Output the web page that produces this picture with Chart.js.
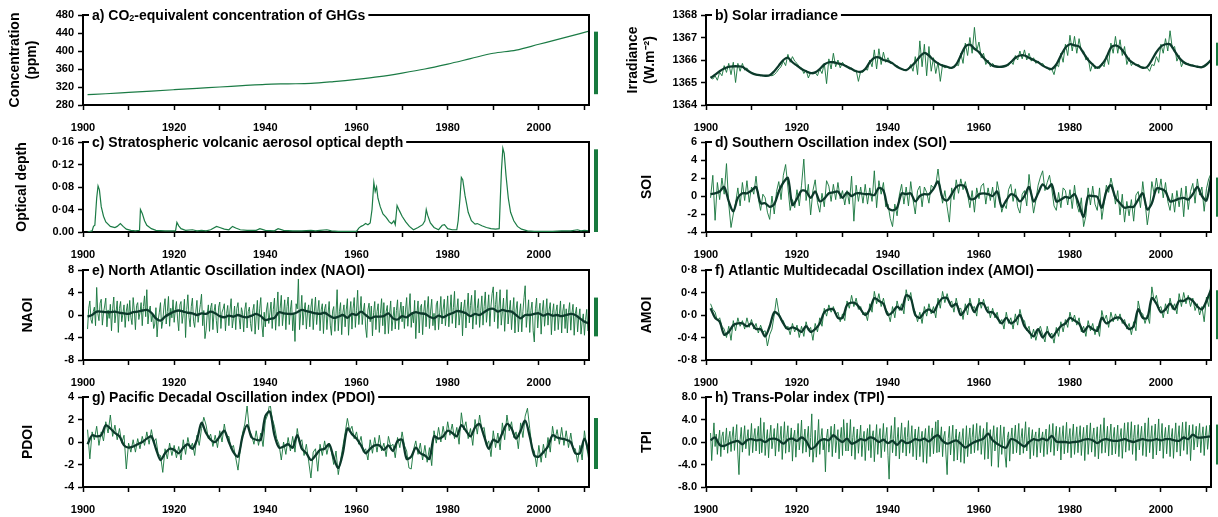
<!DOCTYPE html>
<html>
<head>
<meta charset="utf-8">
<script src="https://cdn.jsdelivr.net/npm/chart.js@4.4.0/dist/chart.umd.min.js"></script>
<style>
  body { margin: 0; background: #fff; }
  #wrap { position: relative; width: 1218px; height: 517px; overflow: hidden; }
  canvas { position: absolute; }
</style>
</head>
<body>
<div id="wrap">
  <canvas id="cA" width="600" height="136" style="left:0;top:0"></canvas>
  <canvas id="cC" width="600" height="136" style="left:0;top:127px"></canvas>
  <canvas id="cE" width="600" height="136" style="left:0;top:255px"></canvas>
  <canvas id="cG" width="600" height="136" style="left:0;top:382px"></canvas>
  <canvas id="cB" width="608" height="136" style="left:610px;top:0"></canvas>
  <canvas id="cD" width="608" height="136" style="left:610px;top:127px"></canvas>
  <canvas id="cF" width="608" height="136" style="left:610px;top:255px"></canvas>
  <canvas id="cH" width="608" height="136" style="left:610px;top:382px"></canvas>
</div>
<script>
// ---- data ----
const yearLabels = [1900, 1920, 1940, 1960, 1980, 2000];

// a) CO2-equivalent concentration (ppm)
const co2Years = [1901,1905,1910,1915,1920,1925,1930,1935,1940,1945,1950,1955,1960,1965,1970,1975,1980,1985,1990,1995,2000,2005,2011];
const co2Values = [303,305,308,311,314,317,320,323,326,327,328,332,337,343,351,360,371,383,395,402,415,428,444];

// c) stratospheric aerosol optical depth
const aodYears = [
  1901,1902,1902.3,1902.6,1903.0,1903.3,1903.6,1904,1904.5,1905,
  1906,1907,1907.5,1908.2,1908.8,1909.5,1910.5,1911.5,1912.4,1912.6,
  1913,1913.5,1914,1915,1916,1918,1920.3,1920.6,1921,1921.5,
  1922.5,1924,1925,1926,1927,1928,1929.3,1930,1931,1932,
  1932.8,1933.5,1934.5,1936,1938,1938.8,1940,1942,1942.8,1944,
  1946,1948,1950,1951,1952,1953.5,1954.5,1956,1958,1960,
  1960.5,1961,1961.5,1962,1962.5,1963,1963.4,1963.8,1964.1,1964.4,
  1964.7,1965.2,1965.8,1966.5,1967.2,1967.7,1968.2,1968.5,1968.9,1969.4,
  1970,1970.8,1971.6,1972.5,1973.5,1974.5,1975,1975.3,1975.6,1976.2,
  1977,1978,1978.8,1979.3,1980,1981,1982,1982.3,1982.7,1983,
  1983.3,1983.8,1984.5,1985.2,1986,1986.5,1987.5,1988.5,1989.5,1990.5,
  1991.3,1991.5,1991.8,1992.1,1992.4,1992.8,1993.3,1993.8,1994.5,1995.3,
  1996.2,1997.5,1999,2001,2003,2005,2007,2008.5,2009.2,2010,2011];
const aodValues = [
  0,0.002,0.01,0.012,0.06,0.082,0.075,0.045,0.028,0.018,
  0.01,0.008,0.01,0.015,0.01,0.005,0.003,0.002,0.003,0.04,
  0.033,0.02,0.012,0.006,0.003,0.002,0.002,0.017,0.011,0.006,
  0.003,0.004,0.002,0.003,0.002,0.004,0.01,0.008,0.005,0.004,
  0.01,0.007,0.004,0.003,0.003,0.006,0.003,0.002,0.006,0.003,
  0.002,0.002,0.003,0.002,0.003,0.004,0.002,0.001,0.001,0.001,
  0.007,0.01,0.012,0.015,0.013,0.016,0.04,0.088,0.072,0.08,
  0.06,0.045,0.032,0.026,0.018,0.015,0.02,0.013,0.047,0.038,
  0.028,0.018,0.01,0.004,0.008,0.013,0.02,0.04,0.03,0.016,
  0.008,0.004,0.012,0.013,0.006,0.004,0.004,0.02,0.06,0.097,
  0.093,0.065,0.035,0.02,0.014,0.015,0.011,0.008,0.006,0.005,
  0.006,0.05,0.11,0.149,0.14,0.1,0.06,0.035,0.02,0.01,
  0.005,0.002,0.001,0.001,0.001,0.002,0.002,0.004,0.002,0.003,0.002];

// noisy series: raw values from 1901.0 (half-yearly, or quarterly for NAOI/TPI), smoothed values yearly from 1901
const solarRaw = [
  1365.25,1365.15,1365.3,1365.1,1365.45,1365.3,1365.75,1365.45,1365.85,1365.35,1365.9,1365.0,1365.85,1365.5,1365.85,1365.55,1365.65,1365.45,1365.45,1365.4,
  1365.35,1365.33,1365.32,1365.3,1365.3,1365.3,1365.32,1365.3,1365.35,1365.45,1365.6,1365.7,1365.95,1365.75,1366.25,1365.9,1366.15,1365.95,1365.85,1365.7,
  1365.65,1365.4,1365.55,1365.2,1365.45,1365.38,1365.45,1365.3,1365.6,1365.4,1365.85,1364.95,1366.05,1365.6,1366.3,1365.7,1366.0,1365.65,1365.9,1365.75,
  1365.75,1365.6,1365.65,1365.5,1365.55,1365.05,1365.5,1365.45,1365.6,1365.55,1366.0,1365.7,1366.45,1365.6,1366.5,1365.8,1366.35,1365.9,1366.1,1365.85,
  1365.9,1365.75,1365.75,1365.65,1365.6,1365.55,1365.55,1365.6,1365.8,1365.5,1366.15,1365.35,1366.85,1365.7,1366.7,1365.3,1366.6,1365.5,1366.1,1365.4,
  1365.9,1365.05,1365.8,1365.65,1365.7,1365.62,1365.65,1365.7,1365.8,1365.75,1366.3,1365.85,1366.75,1366.2,1367.0,1366.3,1367.45,1366.4,1366.8,1366.1,
  1366.3,1365.8,1366.0,1365.7,1365.85,1365.72,1365.72,1365.7,1365.7,1365.7,1365.75,1365.75,1365.95,1365.8,1366.2,1366.0,1366.4,1366.05,1366.45,1366.0,
  1366.3,1365.95,1366.1,1365.85,1365.95,1365.8,1365.85,1365.7,1365.65,1365.55,1365.6,1365.35,1365.8,1365.7,1366.3,1365.9,1366.7,1366.2,1367.1,1366.4,
  1367.05,1366.3,1366.95,1366.4,1366.4,1366.0,1366.1,1365.5,1365.85,1365.6,1365.7,1365.62,1365.85,1365.7,1366.2,1365.8,1366.75,1366.3,1367.05,1366.3,
  1366.9,1366.2,1366.6,1365.8,1366.1,1365.75,1365.9,1365.75,1365.8,1365.7,1365.7,1365.65,1365.65,1365.5,1365.8,1365.75,1366.15,1365.9,1366.7,1366.3,
  1366.95,1366.4,1367.3,1366.5,1366.6,1365.95,1366.2,1365.7,1365.95,1365.8,1365.85,1365.75,1365.78,1365.72,1365.72,1365.7,1365.68,1365.7,1365.75,1365.85,1366.0];
const solarSmooth = [
  1365.2,1365.35,1365.5,1365.62,1365.7,1365.72,1365.72,1365.7,1365.55,1365.42,
  1365.35,1365.32,1365.3,1365.32,1365.5,1365.75,1366.0,1366.1,1365.9,1365.75,
  1365.6,1365.5,1365.42,1365.45,1365.6,1365.8,1365.9,1365.9,1365.85,1365.8,
  1365.7,1365.6,1365.5,1365.47,1365.6,1365.9,1366.1,1366.12,1366.0,1365.95,
  1365.85,1365.7,1365.6,1365.55,1365.7,1365.9,1366.15,1366.32,1366.2,1366.0,
  1365.85,1365.75,1365.7,1365.65,1365.8,1366.2,1366.6,1366.68,1366.5,1366.35,
  1366.1,1365.9,1365.75,1365.7,1365.7,1365.75,1365.9,1366.1,1366.2,1366.2,
  1366.1,1366.0,1365.9,1365.75,1365.65,1365.6,1365.8,1366.2,1366.55,1366.7,
  1366.65,1366.6,1366.3,1366.0,1365.8,1365.65,1365.8,1366.1,1366.55,1366.65,
  1366.55,1366.3,1366.0,1365.85,1365.75,1365.65,1365.7,1366.0,1366.35,1366.6,
  1366.7,1366.7,1366.4,1366.1,1365.9,1365.8,1365.75,1365.7,1365.68,1365.8,1366.0];

const soiRaw = [
  -0.2,2.3,-2.7,1.5,-0.4,2.0,0.2,3.6,-0.9,-3.5,-2.0,-0.8,0.9,-1.1,1.5,-0.5,1.7,-0.7,1.0,0.2,
  2.2,-0.3,-1.6,0.2,-0.2,-1.8,-2.6,0.0,-2.0,0.5,1.6,-0.4,2.3,3.5,1.0,-1.6,-0.4,-1.3,0.7,-1.1,
  1.2,4.1,-0.5,1.3,-2.1,0.6,1.8,-0.7,-1.8,0.3,-1.2,1.7,1.1,-0.6,1.3,-0.4,1.5,-0.3,0.6,-1.0,
  0.6,-0.9,2.2,-2.8,1.2,-0.6,1.0,-0.8,1.3,-0.9,0.9,-0.6,2.8,-1.3,1.7,0.2,1.5,-1.2,-0.9,-2.5,
  -3.4,-0.9,-2.2,0.1,1.3,-0.9,1.0,-1.1,1.6,-0.4,-2.0,0.6,1.1,-1.2,1.0,0.4,-0.8,1.2,0.9,1.2,
  3.0,0.8,-0.8,0.6,-1.2,-2.9,0.9,-0.4,1.8,0.3,1.9,0.7,1.6,0.2,-1.3,0.6,-1.8,0.9,-0.3,1.1,
  1.4,-0.9,0.9,-0.5,1.0,-1.3,1.6,0.3,-1.8,-0.9,-1.4,0.7,1.3,-0.6,0.8,-1.2,-1.9,0.2,0.6,-1.1,
  2.4,0.2,-1.9,-0.5,1.2,2.1,2.8,0.6,1.5,2.3,0.8,-1.1,-1.6,0.4,-1.3,0.9,0.6,-1.0,0.7,-1.4,
  1.2,-0.9,-1.8,-0.2,-3.4,-2.2,0.9,-1.0,1.1,-0.9,-1.6,0.9,-2.6,-0.8,1.2,0.4,2.0,0.9,-0.9,0.6,
  -2.1,0.2,-2.9,-0.6,-2.2,-0.4,-2.8,0.1,0.5,-1.3,1.6,-0.6,-3.2,-1.4,1.6,0.2,2.0,0.3,1.9,-0.2,
  1.5,-0.6,-1.6,0.3,-1.8,0.6,-1.2,0.9,-2.3,1.1,-1.5,0.5,1.4,-0.8,1.9,0.1,1.0,-1.7,0.8,1.9,2.5];
const soiSmooth = [
  0.2,0.3,0.5,1.0,-0.6,-1.7,-0.2,0.3,0.3,0.6,
  1.0,-0.8,-0.8,-1.2,-0.9,0.5,1.5,2.0,-1.0,-0.3,
  0.6,0.5,-0.2,0.5,-0.6,-0.3,0.3,0.4,0.5,-0.2,
  0.4,0.0,0.3,0.3,0.2,0.2,0.1,0.9,0.6,-1.3,
  -1.6,-1.3,0.3,0.2,0.3,-0.6,0.0,0.2,0.2,0.8,
  1.6,-0.2,-0.5,0.2,1.0,1.2,1.0,-0.3,-0.3,0.2,
  0.3,0.2,0.0,0.5,-1.2,-0.5,0.2,0.0,-0.6,0.0,
  1.0,-0.6,0.3,1.3,0.8,1.3,-0.6,-0.4,-0.1,-0.2,
  0.2,-1.0,-2.3,0.0,0.0,-0.1,-1.3,0.5,1.2,-0.2,
  -0.8,-1.3,-1.2,-1.2,-0.4,0.3,-1.5,-0.8,0.8,0.8,
  0.5,-0.6,-0.5,-0.3,-0.2,-0.4,0.2,1.0,0.0,-0.5,2.0];

const naoRaw = [
  -2.5,1.2,2.5,-0.8,-1.5,0.6,1.4,-1.9,4.9,0.3,-1.0,2.1,2.8,-1.8,0.4,1.6,3.0,-2.1,0.9,-0.6,
  1.9,-2.8,1.1,3.2,-1.4,0.5,2.5,-3.1,1.2,2.4,-1.2,0.2,1.8,-2.2,0.7,2.0,-1.1,2.6,-0.4,-1.7,
  3.1,0.9,-2.6,1.7,2.2,-0.8,0.4,2.2,-1.9,1.5,3.4,-0.3,4.5,-1.6,0.8,1.6,-1.2,0.3,-2.4,-1.6,
  1.3,-3.9,-0.9,0.5,2.2,-2.4,-1.1,1.4,2.9,-1.6,0.6,3.3,-2.0,1.2,-0.5,2.7,-1.3,0.9,2.4,-0.7,
  -2.8,1.8,2.4,-1.5,0.3,2.8,-4.0,1.0,3.6,-0.4,-2.1,1.5,3.0,-1.1,-2.2,0.7,2.6,-1.3,0.4,1.9,
  3.7,-1.9,0.8,-4.2,-2.7,0.2,1.8,-2.9,1.3,2.1,-2.6,0.6,1.9,-1.0,-3.2,1.4,2.3,-2.4,0.5,1.1,
  2.0,-2.8,0.3,1.7,-1.9,0.9,2.9,-2.3,-0.6,1.6,-2.6,1.2,2.2,-0.5,-2.5,1.3,0.4,-3.0,1.0,2.2,
  -2.3,0.6,1.4,-1.5,-2.9,0.8,1.9,-3.4,-0.2,2.6,-2.6,1.1,3.1,-1.8,-3.9,0.5,-2.1,0.9,2.2,-1.5,
  0.4,2.3,-2.4,1.0,3.0,-2.7,0.6,4.1,-2.0,1.2,3.5,-1.9,0.3,2.7,-2.6,1.5,3.2,-1.7,0.9,2.6,
  -2.8,0.4,-4.7,2.0,1.1,6.6,-2.6,0.2,3.5,-1.8,0.8,2.2,-2.5,0.5,1.8,-2.1,1.4,2.9,-2.6,0.7,
  3.2,-1.7,0.6,2.6,-2.8,0.9,2.0,-3.3,1.1,1.9,-2.6,0.2,2.4,-1.8,-3.6,0.7,1.5,-2.9,0.2,4.5,
  -2.8,0.6,2.2,-3.5,0.4,1.8,-2.1,0.9,2.9,-3.6,0.3,2.4,-2.5,1.2,3.1,-2.2,0.8,4.4,-1.7,0.5,
  3.3,-1.7,0.7,2.1,-2.3,-4.0,0.9,2.1,-1.2,1.6,-3.7,0.4,2.4,-2.6,0.6,2.0,-3.1,0.3,2.9,-1.9,
  2.2,-3.4,0.6,1.7,-3.3,0.2,2.5,-2.8,-0.6,1.4,-2.5,0.8,2.7,-2.6,0.4,2.3,-1.2,1.6,-2.4,0.9,
  3.1,-2.0,0.7,3.8,-2.2,0.5,-1.4,2.6,-4.2,0.2,2.5,-3.2,1.3,1.9,-3.5,0.6,2.6,-2.1,0.9,3.3,
  -2.4,0.7,2.8,-1.9,0.3,-2.7,1.8,2.5,-2.6,0.4,3.3,-1.6,1.0,2.8,-1.9,0.5,3.4,-2.1,0.6,3.6,
  -1.5,1.3,4.2,-2.3,0.8,2.9,-1.8,0.4,2.3,-3.7,1.1,2.7,-2.3,0.9,3.9,-1.4,1.7,3.5,-2.5,0.6,
  4.4,-1.7,1.2,2.9,-2.2,0.8,3.4,-1.8,1.5,4.1,-1.3,0.9,3.6,-2.0,1.6,3.8,5.0,-1.2,1.9,4.1,
  -2.4,1.2,4.5,-1.8,0.6,3.0,-2.9,1.0,4.5,-1.6,0.7,2.6,-2.6,0.4,3.1,-3.2,0.9,2.4,-3.0,0.2,
  2.0,-3.0,0.6,3.1,5.2,-2.2,0.4,2.7,-3.1,0.8,2.3,-2.8,-4.8,1.1,3.0,-2.3,0.5,2.1,-3.4,0.7,
  2.6,-2.0,0.3,2.9,-1.8,0.9,2.2,-3.5,0.4,2.0,-2.8,0.6,1.8,-2.6,0.2,2.5,-3.2,0.7,1.9,-2.4,
  1.1,-3.2,0.5,2.2,-2.7,0.3,1.9,-3.6,0.2,1.4,-3.0,-0.5,1.1,-3.4,-1.2,0.2,-3.6,-0.8,1.0,-2.8,
  -2.4];
const naoSmooth = [
  -0.3,0.0,0.6,0.6,0.5,0.5,0.6,0.4,0.3,0.2,
  0.5,0.6,0.8,0.9,0.4,-0.6,-1.0,-0.3,0.2,0.6,
  0.8,0.6,0.4,0.3,0.0,0.3,0.2,0.6,0.3,-0.2,
  -0.4,-0.1,-0.3,0.0,-0.3,-0.4,-0.1,0.2,-0.2,-0.9,
  -0.7,-0.5,0.5,0.3,0.2,0.2,0.5,0.9,0.7,0.5,
  0.3,0.2,0.4,-0.1,-0.5,-0.3,0.0,-0.5,0.2,0.0,
  0.6,0.0,-0.6,-0.3,-0.3,-0.2,0.3,-0.6,-0.8,-0.2,
  -0.4,0.2,0.5,0.3,0.2,-0.3,-0.6,-0.1,-0.4,0.0,
  0.3,0.7,0.6,0.3,-0.2,0.2,0.0,0.5,1.0,1.1,
  0.6,0.9,0.7,0.6,0.0,-0.6,0.0,0.0,0.2,0.3,
  -0.1,0.2,-0.1,0.0,-0.2,0.0,0.2,0.0,-0.6,-1.2,-1.5];

const amoRaw = [
  0.2,0.1,0.05,-0.1,-0.05,-0.2,-0.25,-0.4,-0.2,-0.45,-0.1,-0.28,-0.05,-0.2,-0.1,-0.25,-0.05,-0.22,-0.08,-0.25,
  -0.15,-0.32,-0.18,-0.3,-0.28,-0.55,-0.35,-0.25,0.0,0.3,0.05,-0.1,-0.1,-0.25,-0.2,-0.35,-0.15,-0.3,-0.18,-0.4,
  -0.2,-0.38,-0.12,-0.28,-0.22,-0.45,-0.15,-0.3,-0.05,-0.2,0.12,-0.02,0.18,0.05,0.15,0.0,0.05,-0.12,0.02,-0.1,
  0.25,0.12,0.35,0.15,0.3,0.1,0.15,0.0,0.05,-0.1,0.2,0.05,0.42,0.2,0.38,0.15,0.3,0.1,0.05,-0.12,
  0.15,-0.05,0.25,0.08,0.2,0.02,0.45,0.25,0.4,0.15,0.05,-0.12,0.05,-0.15,0.15,-0.02,0.2,0.02,0.15,-0.05,
  0.3,0.12,0.42,0.22,0.38,0.2,0.25,0.05,0.3,0.1,0.12,-0.08,0.2,0.0,0.3,0.12,0.15,-0.02,0.3,0.12,
  0.28,0.1,0.15,-0.05,0.12,-0.05,0.05,-0.15,-0.08,-0.25,0.05,-0.15,-0.05,-0.25,0.02,-0.18,0.1,-0.08,-0.1,-0.28,
  -0.2,-0.42,-0.25,-0.45,-0.28,-0.2,-0.35,-0.48,-0.2,-0.38,-0.32,-0.5,-0.22,-0.38,-0.12,-0.3,-0.08,-0.22,0.05,-0.12,
  0.0,-0.18,-0.05,-0.3,-0.2,-0.38,-0.1,-0.28,-0.15,-0.35,-0.2,-0.38,0.08,-0.1,0.0,-0.22,0.05,-0.12,0.02,-0.1,
  0.02,-0.15,-0.08,-0.25,-0.15,-0.35,-0.12,-0.28,0.25,0.05,0.02,-0.15,0.0,-0.15,0.5,0.25,0.35,0.12,0.15,-0.05,
  0.2,0.02,0.3,0.1,0.2,0.02,0.38,0.15,0.4,0.2,0.35,0.15,0.3,0.08,0.2,0.0,0.15,-0.12,0.32,0.15,0.6];
const amoSmooth = [
  0.12,-0.05,-0.12,-0.35,-0.3,-0.18,-0.15,-0.15,-0.2,-0.15,
  -0.25,-0.25,-0.38,-0.2,0.05,0.0,-0.15,-0.25,-0.22,-0.25,
  -0.3,-0.2,-0.3,-0.25,-0.15,0.05,0.1,0.1,-0.05,-0.05,
  0.18,0.22,0.2,0.1,0.0,0.1,0.3,0.25,0.2,0.0,
  0.05,0.15,0.1,0.35,0.3,0.0,-0.05,0.05,0.1,0.05,
  0.2,0.3,0.3,0.15,0.2,0.0,0.1,0.2,0.05,0.2,
  0.2,0.05,0.05,-0.05,-0.15,-0.05,-0.15,-0.1,0.0,-0.2,
  -0.3,-0.38,-0.25,-0.4,-0.3,-0.4,-0.3,-0.2,-0.15,-0.05,
  -0.1,-0.15,-0.3,-0.2,-0.25,-0.28,-0.05,-0.15,-0.1,-0.05,
  -0.05,-0.15,-0.25,-0.2,0.1,-0.05,-0.05,0.3,0.2,0.05,
  0.1,0.2,0.1,0.25,0.25,0.3,0.25,0.15,0.1,0.25,0.45];

const pdoRaw = [
  1.1,-1.5,0.9,0.2,1.4,-0.3,0.9,0.1,1.8,0.8,2.4,0.5,1.5,0.2,1.2,-0.1,0.6,-2.4,-0.1,-0.9,
  0.2,-0.9,0.3,-0.6,0.5,-0.3,0.9,-0.2,1.1,0.0,0.3,-1.1,-1.2,-2.7,-0.6,-1.5,-0.1,-1.2,-0.3,-1.4,
  -0.4,-1.6,0.2,-1.1,0.4,-0.6,-0.1,-1.2,0.6,-0.3,1.2,2.2,1.5,0.3,0.7,-0.4,0.6,-0.5,1.0,0.0,
  1.6,0.4,0.5,-0.6,-0.3,-1.4,-2.5,-0.7,0.8,1.6,3.2,1.0,0.6,-0.2,1.0,-0.3,0.8,-0.4,1.9,2.4,
  3.5,2.1,1.4,0.3,-0.2,-1.6,0.0,-1.1,0.4,-0.8,0.5,-0.9,1.2,-0.1,0.2,-1.2,-0.2,-1.7,-3.2,-0.9,
  -0.6,-2.6,-0.2,-1.2,0.1,-1.1,-0.1,-0.9,-2.0,-0.8,-2.9,-1.6,-0.4,0.8,2.1,1.0,1.4,0.3,0.9,-0.2,
  0.5,-0.9,-0.6,-1.6,0.2,-1.0,0.4,-0.9,0.6,-0.8,-0.1,-1.3,0.5,-0.4,-0.2,-1.4,0.4,-0.5,0.9,-0.3,
  -0.8,-2.3,-2.4,-0.7,0.1,-1.1,-0.1,-1.6,-0.3,-1.8,-0.5,-2.1,1.0,-0.1,1.3,0.0,1.4,0.2,1.8,0.6,
  1.6,0.3,1.3,-0.2,2.6,1.1,1.8,0.3,1.2,-0.3,2.0,0.7,2.4,1.1,1.3,-0.3,0.1,-1.3,1.0,-0.5,
  0.8,-0.7,1.7,0.2,2.4,1.0,1.8,0.4,0.9,-0.6,1.7,0.4,2.3,3.0,1.2,-0.5,-0.8,-2.2,-0.3,-1.8,
  -0.2,-1.4,0.4,-0.9,1.4,0.1,1.1,-0.2,1.3,-0.3,1.0,-0.5,0.8,-0.6,-0.6,-1.8,-0.3,-1.6,1.0,-0.5,-1.7];
const pdoSmooth = [
  -0.2,0.6,0.5,0.6,1.5,1.2,0.8,0.5,-0.3,-0.5,
  -0.4,-0.2,0.0,0.3,0.5,-0.6,-1.6,-1.0,-0.6,-0.7,
  -1.0,-0.5,-0.2,-0.6,0.2,1.7,0.8,0.2,0.0,0.5,
  1.0,0.0,-0.9,-1.3,0.5,1.5,0.4,0.2,0.2,2.3,
  2.7,0.6,-0.5,-0.4,-0.2,-0.5,0.6,-0.6,-1.0,-1.6,
  -1.2,-0.7,-0.6,-0.2,-1.4,-2.3,-1.0,1.2,0.7,0.3,
  -0.3,-1.0,-0.6,-0.3,-0.3,-0.7,-0.3,-0.8,0.1,0.2,
  -1.5,-1.3,-0.5,-1.0,-1.2,-1.5,0.5,0.3,0.5,1.0,
  0.8,0.5,1.5,1.0,0.5,1.3,1.6,0.5,-0.6,0.2,
  0.0,0.8,1.6,1.2,0.3,1.0,1.9,0.5,-1.2,-1.3,
  -0.9,-0.4,0.6,0.4,0.3,0.2,0.0,-1.0,-1.0,0.3,-1.0];

const tpiRaw = [
  1.6,-3.3,0.4,3.4,-0.8,1.4,-2.2,0.3,2.1,-2.6,1.0,1.8,-1.4,0.2,2.5,-2.0,0.6,1.9,-1.7,0.9,
  2.7,-1.5,0.8,3.1,-2.3,-5.8,0.4,2.6,-1.8,0.7,2.9,-1.2,0.5,2.2,-2.4,0.3,3.3,-1.9,0.8,2.4,
  -1.6,0.9,2.8,-2.1,4.3,-1.9,0.6,3.5,-2.4,0.4,2.2,-2.8,0.9,3.0,-1.2,0.5,2.4,-2.5,0.7,3.3,
  -1.7,0.4,2.8,-3.1,0.6,3.6,-2.0,0.8,2.9,-1.8,0.3,2.5,-3.4,0.9,2.1,-2.7,0.5,3.3,-1.4,0.6,
  3.9,-2.0,0.4,2.3,-1.8,0.7,2.8,-2.6,0.8,5.0,-3.6,-1.2,2.1,-2.7,0.3,4.0,-2.2,0.6,2.4,-1.4,
  0.5,-5.3,0.8,2.3,-1.8,0.4,2.8,-2.6,0.9,3.2,-1.9,0.3,2.2,-3.0,0.6,2.6,-2.4,4.0,0.7,-1.6,
  3.4,-1.6,0.5,4.0,-2.5,0.8,2.7,-3.1,0.3,2.3,-2.0,0.7,3.0,-2.6,0.4,1.9,-3.3,0.6,2.4,-1.5,
  3.1,-2.8,0.9,2.0,-3.5,0.3,3.1,-2.2,0.6,2.4,-2.8,0.4,3.3,-1.7,0.8,2.6,-2.4,-6.6,0.5,2.9,
  -1.9,0.6,4.4,-2.5,0.3,2.6,-3.0,0.7,3.4,-1.9,0.4,2.6,-2.5,0.8,3.8,-2.0,0.2,2.9,-2.6,0.5,
  2.3,-3.2,0.9,2.7,-2.6,0.4,1.9,-3.6,0.6,2.4,-3.8,0.3,2.9,-2.6,0.8,2.5,-2.1,0.7,3.6,-1.9,
  3.9,-1.8,0.5,2.7,-2.6,0.9,1.9,-2.3,-5.8,0.6,2.8,-2.3,0.4,3.0,-3.4,0.2,2.3,-3.2,0.6,1.8,
  -3.6,0.3,2.4,-3.8,-0.6,2.9,-2.6,0.4,2.5,-2.1,0.8,3.1,-1.9,0.6,3.3,-1.5,0.9,2.9,-2.2,0.5,
  2.4,-3.1,0.7,3.5,-3.0,0.4,2.2,-4.3,0.6,2.9,-1.6,0.3,2.6,-4.5,-0.8,3.0,-2.2,0.5,2.7,-2.5,
  -4.5,0.8,1.8,-3.4,0.5,2.5,-2.1,0.7,3.0,-1.9,0.4,3.3,-2.3,0.6,2.4,-2.0,0.9,3.6,-1.6,0.3,
  2.6,-3.0,0.5,2.2,-2.4,0.8,1.8,-2.7,0.4,2.5,-1.9,0.6,1.8,-2.6,0.9,2.3,-2.2,0.4,3.1,-1.8,
  0.6,3.3,-2.4,0.8,2.8,-1.6,0.3,2.6,-3.2,0.7,2.9,-2.1,0.5,3.5,-1.9,0.6,2.4,-2.8,0.9,3.2,
  -2.2,0.4,2.7,-1.9,0.8,2.9,-2.4,0.5,2.6,-3.3,0.7,3.0,-2.2,0.6,3.4,-1.8,0.9,2.5,-2.6,0.4,
  2.7,-3.0,0.6,3.1,-2.0,0.8,4.3,-1.9,0.5,2.8,-2.5,0.9,3.2,-2.3,0.7,2.6,-2.1,0.5,3.0,-2.6,
  0.8,2.4,-2.9,0.6,3.4,-1.8,0.9,3.5,-1.5,0.7,3.6,-2.2,0.8,3.0,-3.3,0.6,3.1,-1.4,0.9,2.8,
  -2.4,0.5,3.4,-2.6,0.8,4.3,-1.9,0.6,2.9,-3.0,0.7,3.2,-2.3,0.9,4.1,-1.6,0.5,3.3,-2.9,0.8,
  2.6,-2.1,0.9,3.0,-2.6,0.7,2.4,-2.9,0.6,3.4,-1.8,0.8,2.9,-2.5,0.7,3.5,-1.5,0.9,3.6,-2.2,
  1.0,3.0,-3.3,0.6,3.1,-1.4,0.8,2.8,-0.9,1.2,3.3,-1.9,0.9,2.7,-2.4,1.1,2.9,-1.3,0.8,3.0,
  -1.5];
const tpiSmooth = [
  0.3,0.8,-0.5,-0.7,-0.3,0.0,0.2,-0.4,0.3,0.5,
  0.3,0.4,0.0,0.5,0.6,0.3,-0.3,0.4,0.6,0.2,
  0.8,0.2,-1.2,-0.8,0.2,0.5,0.3,1.2,0.5,0.0,
  0.6,-0.3,0.0,0.5,0.3,0.8,0.6,0.0,0.4,-0.2,
  0.2,-0.5,0.3,-0.2,0.0,0.5,0.3,0.6,0.1,0.8,
  1.2,0.2,-0.3,0.0,0.3,-0.3,-1.0,-0.5,0.0,0.3,
  0.6,1.5,0.3,-0.3,-0.8,-1.0,0.5,0.3,-0.3,-0.8,
  0.0,0.5,0.3,0.6,0.3,1.1,0.1,0.0,0.0,-0.1,
  0.0,0.1,0.4,0.5,0.3,-0.2,0.3,0.5,0.3,0.2,
  0.3,0.5,0.2,0.0,0.3,0.5,0.3,0.3,0.5,0.3,
  0.5,0.5,0.3,0.2,0.8,0.5,1.3,0.8,0.8,0.9,1.0];

// green range bars at the right of each panel [low, high]
const barCo2 = [304, 443], barAod = [0, 0.147], barNao = [-3.8, 3.1], barPdo = [-2.4, 2.13];
const barSolar = [1365.75, 1366.77], barSoi = [-2.3, 2.05], barAmo = [-0.43, 0.44], barTpi = [-4.0, 3.1];

// tick labels, bottom to top
const co2Ticks = ['280','320','360','400','440','480'];
const aodTicks = ['0.00','0\u00b704','0\u00b708','0\u00b712','0\u00b716'];
const naoTicks = ['-8','-4','0','4','8'];
const pdoTicks = ['-4','-2','0','2','4'];
const solarTicks = ['1364','1365','1366','1367','1368'];
const soiTicks = ['-4','-2','0','2','4','6'];
const amoTicks = ['-0\u00b78','-0\u00b74','0\u00b70','0\u00b74','0\u00b78'];
const tpiTicks = ['-8.0','-4.0','0.0','4.0','8.0'];

// ---- drawing ----
const FONT = "'Liberation Sans', Arial, sans-serif";
const LIGHT = 'rgba(24,118,62,0.92)';
const DARK = '#0c3a2b';
const BAR = '#177a3e';

function pts(xs, ys) { return ys.map((v, i) => ({ x: xs[i], y: v })); }
function steps(n, perYear) { return Array.from({ length: n }, (_, i) => 1901 + i / perYear); }

const framePlugin = {
  id: 'frame',
  afterDraw(chart, args, opts) {
    const { ctx, chartArea: ca } = chart;
    const y = chart.scales.y;
    ctx.save();
    ctx.strokeStyle = '#000';
    ctx.lineWidth = 2;
    ctx.beginPath();
    ctx.moveTo(ca.left, ca.top);
    ctx.lineTo(ca.right, ca.top);
    ctx.lineTo(ca.right, ca.bottom + 1);
    ctx.stroke();

    const main = 'bold 14px ' + FONT, sub = 'bold 9px ' + FONT;
    let w = 0;
    opts.title.forEach(p => { ctx.font = p[1] ? sub : main; w += ctx.measureText(p[0]).width; });
    const x0 = ca.left + 9;
    ctx.fillStyle = '#fff';
    ctx.fillRect(x0 - 3, ca.top - 9, w + 6, 18);
    ctx.fillStyle = '#000';
    ctx.textBaseline = 'middle';
    let x = x0;
    opts.title.forEach(p => {
      ctx.font = p[1] ? sub : main;
      ctx.fillText(p[0], x, ca.top + (p[1] ? 4 : 1));
      x += ctx.measureText(p[0]).width;
    });

    const yl = y.getPixelForValue(opts.bar[0]), yh = y.getPixelForValue(opts.bar[1]);
    ctx.fillStyle = BAR;
    ctx.fillRect(ca.right + 5, yh, 4, yl - yh);
    ctx.restore();
  }
};

function panel(id, o) {
  const tickFont = { family: FONT, size: 11, weight: 'bold' };
  return new Chart(document.getElementById(id), {
    type: 'line',
    data: { datasets: o.datasets },
    options: {
      responsive: false,
      animation: false,
      devicePixelRatio: 1,
      layout: { padding: { top: 15, right: o.padRight, left: 0, bottom: 0 } },
      elements: { point: { radius: 0 } },
      plugins: {
        legend: { display: false },
        tooltip: { enabled: false },
        frame: { title: o.title, bar: o.bar }
      },
      scales: {
        x: {
          type: 'linear', min: 1900, max: 2011,
          afterFit: s => { s.height = 31; },
          border: { color: '#000', width: 2 },
          grid: { drawOnChartArea: false, drawTicks: true, tickLength: 5, tickColor: '#000', tickWidth: 1.5 },
          ticks: {
            stepSize: 10, includeBounds: false, autoSkip: false, maxRotation: 0,
            padding: 11, color: '#000', font: tickFont,
            callback: v => yearLabels.includes(v) ? String(v) : ''
          }
        },
        y: {
          min: o.min, max: o.max,
          afterFit: s => { s.width = o.yWidth; },
          border: { color: '#000', width: 2 },
          grid: { drawOnChartArea: false, drawTicks: true, tickLength: 5, tickColor: '#000', tickWidth: 1.5 },
          ticks: {
            stepSize: o.step, padding: 4, color: '#000', font: tickFont,
            callback: (v, i) => o.tickLabels[i]
          },
          title: {
            display: true, text: o.yTitle, color: '#000',
            font: { family: FONT, size: 14, weight: 'bold' },
            padding: { top: o.titlePad, bottom: 0 }
          }
        }
      }
    },
    plugins: [framePlugin]
  });
}

function noisy(raw, smooth, perYear) {
  return [
    { data: pts(steps(smooth.length, 1), smooth), borderColor: DARK, borderWidth: 2.3, tension: 0.3 },
    { data: pts(steps(raw.length, perYear), raw), borderColor: LIGHT, borderWidth: 1, tension: 0 }
  ];
}
function single(xs, ys, tension) {
  return [{ data: pts(xs, ys), borderColor: '#1b7b45', borderWidth: 1.2, tension: tension, cubicInterpolationMode: tension ? 'monotone' : 'default' }];
}

const LEFT = { yWidth: 83, padRight: 11 };
const RIGHT = { yWidth: 96, padRight: 7 };

panel('cA', Object.assign({}, LEFT, {
  datasets: single(co2Years, co2Values, 0.4),
  min: 280, max: 480, step: 40, tickLabels: co2Ticks,
  yTitle: ['Concentration', '(ppm)'], titlePad: 7, bar: barCo2,
  title: [['a) CO', 0], ['2', 1], ['-equivalent concentration of GHGs', 0]]
}));
panel('cC', Object.assign({}, LEFT, {
  datasets: single(aodYears, aodValues, 0),
  min: 0, max: 0.16, step: 0.04, tickLabels: aodTicks,
  yTitle: 'Optical depth', titlePad: 14, bar: barAod,
  title: [['c) Stratospheric volcanic aerosol optical depth', 0]]
}));
panel('cE', Object.assign({}, LEFT, {
  datasets: noisy(naoRaw, naoSmooth, 4),
  min: -8, max: 8, step: 4, tickLabels: naoTicks,
  yTitle: 'NAOI', titlePad: 20, bar: barNao,
  title: [['e) North Atlantic Oscillation index (NAOI)', 0]]
}));
panel('cG', Object.assign({}, LEFT, {
  datasets: noisy(pdoRaw, pdoSmooth, 2),
  min: -4, max: 4, step: 2, tickLabels: pdoTicks,
  yTitle: 'PDOI', titlePad: 20, bar: barPdo,
  title: [['g) Pacific Decadal Oscillation index (PDOI)', 0]]
}));
panel('cB', Object.assign({}, RIGHT, {
  datasets: noisy(solarRaw, solarSmooth, 2),
  min: 1364, max: 1368, step: 1, tickLabels: solarTicks,
  yTitle: ['Irradiance', '(W.m\u207b\u00b2)'], titlePad: 15, bar: barSolar,
  title: [['b) Solar irradiance', 0]]
}));
panel('cD', Object.assign({}, RIGHT, {
  datasets: noisy(soiRaw, soiSmooth, 2),
  min: -4, max: 6, step: 2, tickLabels: soiTicks,
  yTitle: 'SOI', titlePad: 29, bar: barSoi,
  title: [['d) Southern Oscillation index (SOI)', 0]]
}));
panel('cF', Object.assign({}, RIGHT, {
  datasets: noisy(amoRaw, amoSmooth, 2),
  min: -0.8, max: 0.8, step: 0.4, tickLabels: amoTicks,
  yTitle: 'AMOI', titlePad: 29, bar: barAmo,
  title: [['f) Atlantic Multidecadal Oscillation index (AMOI)', 0]]
}));
panel('cH', Object.assign({}, RIGHT, {
  datasets: noisy(tpiRaw, tpiSmooth, 4),
  min: -8, max: 8, step: 4, tickLabels: tpiTicks,
  yTitle: 'TPI', titlePad: 29, bar: barTpi,
  title: [['h) Trans-Polar index (TPI)', 0]]
}));
</script>
</body>
</html>
